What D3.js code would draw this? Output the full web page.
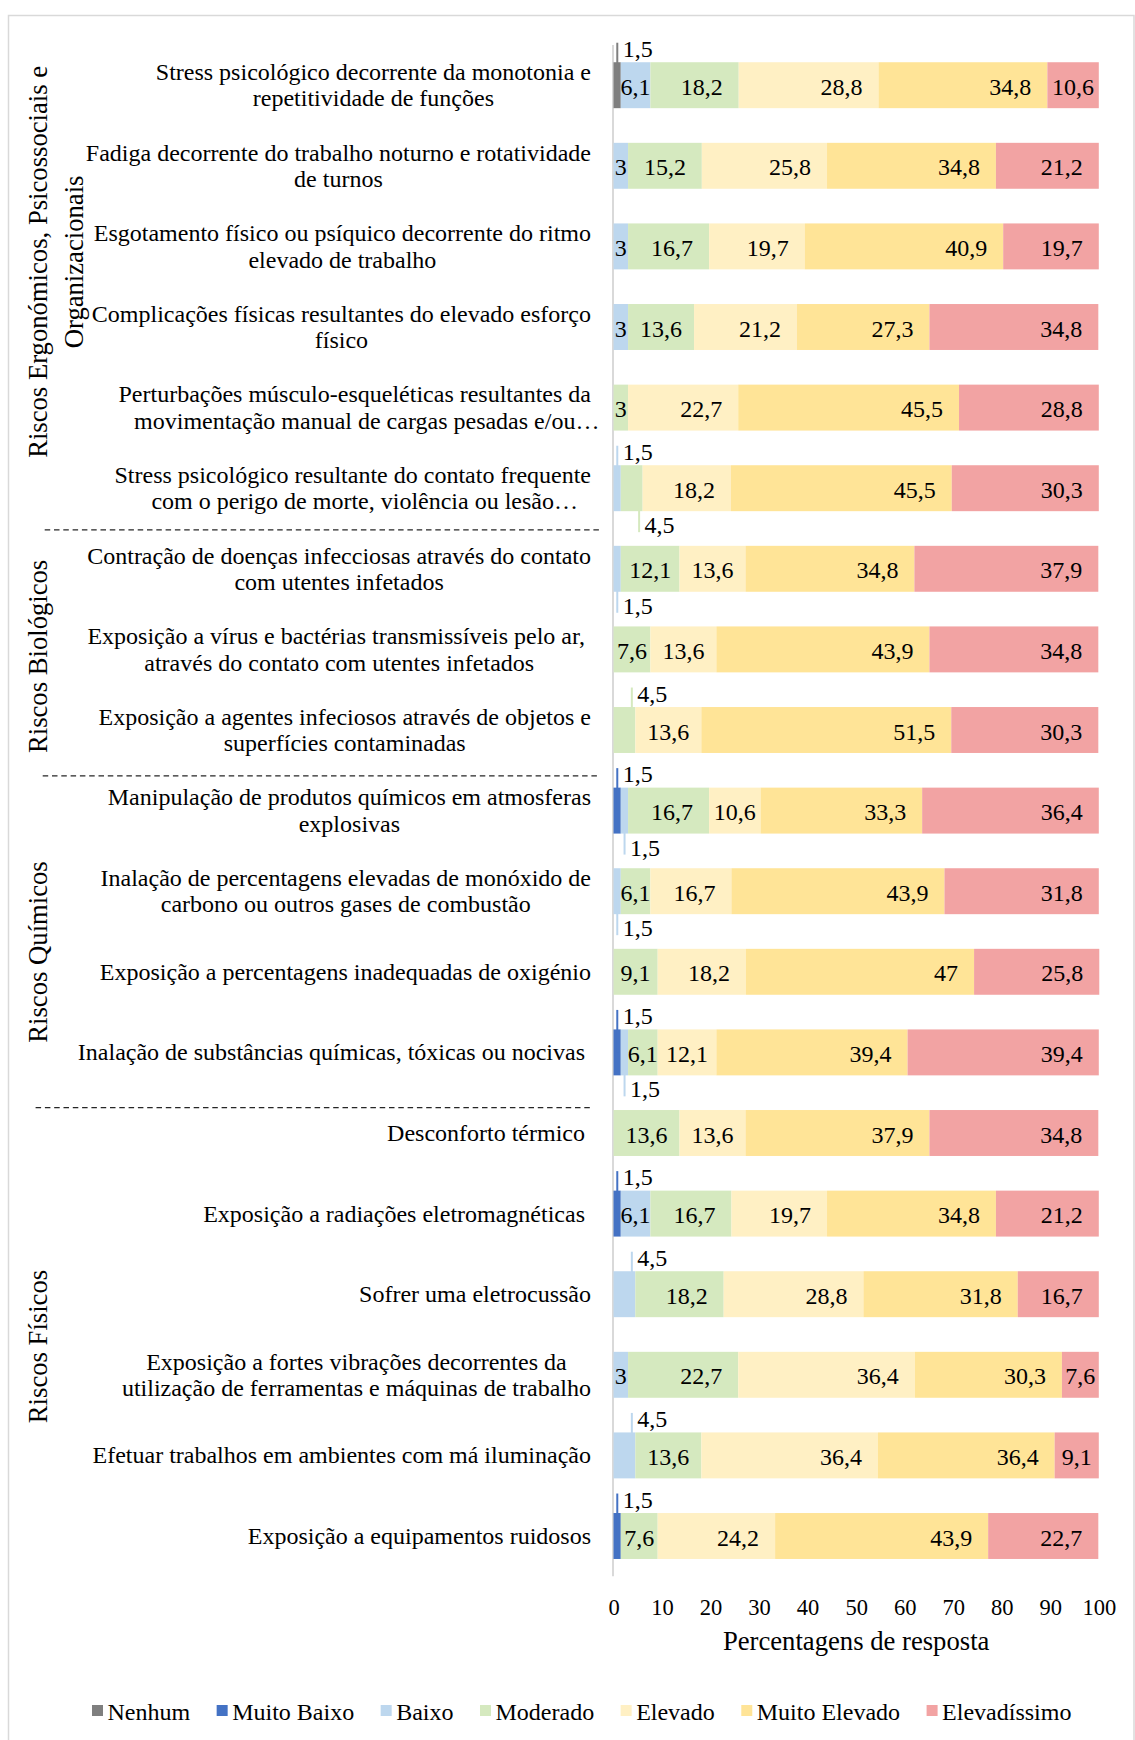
<!DOCTYPE html>
<html><head><meta charset="utf-8">
<script src="https://cdn.jsdelivr.net/npm/d3@7"></script>
<style>
html,body{margin:0;padding:0;background:#fff;}
svg{display:block;}
text{font-family:"Liberation Serif","Times New Roman",serif;fill:#000;}
</style></head><body>
<svg id="chart" width="1135" height="1740"></svg>
<script>
// ---------------- DATA ----------------
const categories = [
  ["Stress psicológico decorrente da monotonia e", "repetitividade de funções"],
  ["Fadiga decorrente do trabalho noturno e rotatividade", "de turnos"],
  ["Esgotamento físico ou psíquico decorrente do ritmo", "elevado de trabalho"],
  ["Complicações físicas resultantes do elevado esforço", "físico"],
  ["Perturbações músculo-esqueléticas resultantes da", "movimentação manual de cargas pesadas e/ou…"],
  ["Stress psicológico resultante do contato frequente", "com o perigo de morte, violência ou lesão…"],
  ["Contração de doenças infecciosas através do contato", "com utentes infetados"],
  ["Exposição a vírus e bactérias transmissíveis pelo ar, ", "através do contato com utentes infetados"],
  ["Exposição a agentes infeciosos através de objetos e", "superfícies contaminadas"],
  ["Manipulação de produtos químicos em atmosferas", "explosivas"],
  ["Inalação de percentagens elevadas de monóxido de", "carbono ou outros gases de combustão"],
  ["Exposição a percentagens inadequadas de oxigénio"],
  ["Inalação de substâncias químicas, tóxicas ou nocivas "],
  ["Desconforto térmico "],
  ["Exposição a radiações eletromagnéticas "],
  ["Sofrer uma eletrocussão"],
  ["Exposição a fortes vibrações decorrentes da", "utilização de ferramentas e máquinas de trabalho"],
  ["Efetuar trabalhos em ambientes com má iluminação"],
  ["Exposição a equipamentos ruidosos"]
];

const groups = [
  ["Riscos Ergonómicos, Psicossociais e", "Organizacionais"],
  ["Riscos Biológicos"],
  ["Riscos Químicos"],
  ["Riscos Físicos"]
];
const groupSizes = [6, 3, 4, 6];

const seriesNames = ["Nenhum", "Muito Baixo", "Baixo", "Moderado", "Elevado", "Muito Elevado", "Elevadíssimo"];

const nenhum       = [1.5, 0, 0, 0, 0, 0,   0, 0, 0,   0, 0, 0, 0,   0, 0, 0, 0, 0, 0];
const muitoBaixo   = [0, 0, 0, 0, 0, 0,     0, 0, 0,   1.5, 0, 0, 1.5,   0, 1.5, 0, 0, 0, 1.5];
const baixo        = [6.1, 3, 3, 3, 0, 1.5, 1.5, 0, 0, 1.5, 1.5, 0, 1.5, 0, 6.1, 4.5, 3, 4.5, 0];
const moderado     = [18.2, 15.2, 16.7, 13.6, 3, 4.5, 12.1, 7.6, 4.5, 16.7, 6.1, 9.1, 6.1, 13.6, 16.7, 18.2, 22.7, 13.6, 7.6];
const elevado      = [28.8, 25.8, 19.7, 21.2, 22.7, 18.2, 13.6, 13.6, 13.6, 10.6, 16.7, 18.2, 12.1, 13.6, 19.7, 28.8, 36.4, 36.4, 24.2];
const muitoElevado = [34.8, 34.8, 40.9, 27.3, 45.5, 45.5, 34.8, 43.9, 51.5, 33.3, 43.9, 47, 39.4, 37.9, 34.8, 31.8, 30.3, 36.4, 43.9];
const elevadissimo = [10.6, 21.2, 19.7, 34.8, 28.8, 30.3, 37.9, 34.8, 30.3, 36.4, 31.8, 25.8, 39.4, 34.8, 21.2, 16.7, 7.6, 9.1, 22.7];

const tickValues = [0, 10, 20, 30, 40, 50, 60, 70, 80, 90, 100];
const axisTitle = "Percentagens de resposta";

// small segments whose labels sit outside the bar with a leader line
const callouts = [
  {row: 0, series: "Nenhum", side: "above"},
  {row: 5, series: "Baixo", side: "above"},
  {row: 5, series: "Moderado", side: "below"},
  {row: 6, series: "Baixo", side: "below"},
  {row: 8, series: "Moderado", side: "above"},
  {row: 9, series: "Muito Baixo", side: "above"},
  {row: 9, series: "Baixo", side: "below"},
  {row: 10, series: "Baixo", side: "below"},
  {row: 12, series: "Muito Baixo", side: "above"},
  {row: 12, series: "Baixo", side: "below"},
  {row: 14, series: "Muito Baixo", side: "above"},
  {row: 15, series: "Baixo", side: "above"},
  {row: 17, series: "Baixo", side: "above"},
  {row: 18, series: "Muito Baixo", side: "above"}
];

// ---------------- STYLE ----------------
const colors = ["#7f7f7f", "#4472c4", "#bdd7ee", "#d5e9bf", "#fff0c4", "#ffe497", "#f2a3a3"];
const FONT_LABEL = "24px", FONT_TICK = "22.5px", FONT_TITLE = "26.67px";

const svg = d3.select("#chart");
const seriesValues = [nenhum, muitoBaixo, baixo, moderado, elevado, muitoElevado, elevadissimo];
const color = d3.scaleOrdinal().domain(seriesNames).range(colors);

const x = d3.scaleLinear().domain([0, 100]).range([613.5, 1098.8]);
const y = d3.scaleBand().domain(d3.range(categories.length))
  .range([44.9, 44.9 + 19 * 80.6]).paddingInner(0.43).paddingOuter(0.215);
const bw = y.bandwidth();

// frame
svg.append("rect").attr("x", 8.5).attr("y", 15.5).attr("width", 1125.5).attr("height", 1760)
  .attr("fill", "none").attr("stroke", "#d9d9d9").attr("stroke-width", 1.5);

// vertical axis line
svg.append("line").attr("x1", x(0) - 0.5).attr("x2", x(0) - 0.5)
  .attr("y1", 44.9).attr("y2", 44.9 + 19 * 80.6)
  .attr("stroke", "#d9d9d9").attr("stroke-width", 2);

// stacked data
const table = categories.map((c, i) => {
  const o = {i};
  seriesNames.forEach((n, s) => o[n] = seriesValues[s][i]);
  return o;
});
const stacked = d3.stack().keys(seriesNames)(table);

const segs = [];
stacked.forEach(layer => {
  layer.forEach((d, i) => {
    const v = d.data[layer.key];
    if (v > 0) segs.push({key: layer.key, row: i, v, x0: d[0], x1: d[1]});
  });
});

svg.append("g").selectAll("rect").data(segs).join("rect")
  .attr("x", d => x(d.x0))
  .attr("y", d => y(d.row))
  .attr("width", d => x(d.x1) - x(d.x0))
  .attr("height", bw)
  .attr("fill", d => color(d.key));

const fmt = v => String(v).replace(".", ",");

// data labels
const lblG = svg.append("g");
segs.forEach(d => {
  const co = callouts.find(c => c.row === d.row && c.series === d.key);
  const cy = y(d.row) + bw / 2;
  if (!co) {
    const t = lblG.append("text").style("font-size", FONT_LABEL)
      .attr("text-anchor", "middle").attr("y", cy + 9.5).text(fmt(d.v));
    const w = t.node().getComputedTextLength();
    const segC = (x(d.x0) + x(d.x1)) / 2;
    t.attr("x", Math.max(segC, x(d.x1) - 16 - w / 2));
  } else {
    const lx = x(d.x1) - 3.5;
    let tc, lineEnd;
    if (co.side === "above") { tc = y(d.row) - 13.5; lineEnd = tc - 6; }
    else { tc = y(d.row) + bw + 14; lineEnd = tc + 7; }
    lblG.append("line").attr("x1", lx).attr("x2", lx).attr("y1", cy).attr("y2", lineEnd)
      .attr("stroke", color(d.key)).attr("stroke-width", 2);
    lblG.append("text").style("font-size", FONT_LABEL)
      .attr("x", lx + 5.5).attr("y", tc + 8).text(fmt(d.v));
  }
});

// category labels
const catG = svg.append("g");
const labelRight = 591;
categories.forEach((lines, i) => {
  const cy = y(i) + bw / 2;
  const ts = lines.map(ln => catG.append("text").style("font-size", FONT_LABEL)
    .style("white-space", "pre").attr("xml:space", "preserve")
    .attr("text-anchor", "middle").text(ln));
  const widths = ts.map(t => t.node().getComputedTextLength());
  const maxW = d3.max(widths);
  const cx = labelRight - maxW / 2;
  const n = lines.length;
  ts.forEach((t, li) => {
    t.attr("x", cx + (lines[li].endsWith("…") ? 12 : 0))
     .attr("y", cy + 8 + (li - (n - 1) / 2) * 26.5);
  });
});

// group labels
const groupOffsets = [-24.8, 7, 20.5, 12];
let start = 0;
groups.forEach((lines, gi) => {
  const first = start, last = start + groupSizes[gi] - 1;
  const cy = (y(first) + y(last) + bw) / 2 + groupOffsets[gi];
  lines.forEach((ln, li) => {
    svg.append("text").style("font-size", FONT_TITLE).attr("text-anchor", "middle")
      .attr("transform", `translate(${46.5 + li * 36},${cy}) rotate(-90)`).text(ln);
  });
  start += groupSizes[gi];
});

// dashed group separators
const seps = [
  {y: y(6) + bw / 2 - 38.9, x1: 44.7, x2: 601},
  {y: y(9) + bw / 2 - 34.7, x1: 42.7, x2: 599},
  {y: y(13) + bw / 2 - 25.4, x1: 35.6, x2: 592}
];
svg.append("g").selectAll("line").data(seps).join("line")
  .attr("x1", d => d.x1).attr("x2", d => d.x2).attr("y1", d => d.y).attr("y2", d => d.y)
  .attr("stroke", "#262626").attr("stroke-width", 1.2).attr("stroke-dasharray", "5.5,3.8");

// x axis
const ax = svg.append("g").attr("transform", "translate(0,1596)")
  .call(d3.axisBottom(x).tickValues(tickValues).tickSize(0).tickPadding(3).tickFormat(d3.format("d")));
ax.select(".domain").remove();
ax.attr("font-family", null).attr("font-size", null);
ax.selectAll("text").style("font-size", FONT_TICK).attr("fill", "#000");

svg.append("text").style("font-size", FONT_TITLE).attr("text-anchor", "middle")
  .attr("x", (x(0) + x(100)) / 2).attr("y", 1650).text(axisTitle);

// legend
const leg = svg.append("g");
let lx = 92;
seriesNames.forEach((n, s) => {
  leg.append("rect").attr("x", lx).attr("y", 1705).attr("width", 11).attr("height", 11).attr("fill", colors[s]);
  const t = leg.append("text").style("font-size", FONT_LABEL).attr("x", lx + 15.5).attr("y", 1720).text(n);
  lx += 15.5 + t.node().getComputedTextLength() + 26.5;
});
</script>
</body></html>
